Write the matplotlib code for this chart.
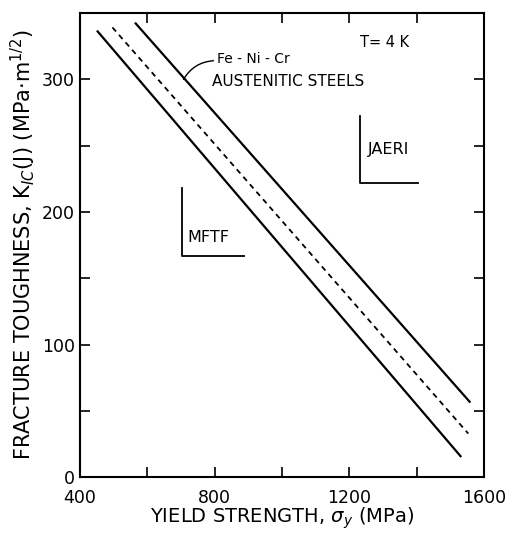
import matplotlib.pyplot as plt

# band of K_IC vs yield strength for Fe-Ni-Cr austenitic steels at 4 K
upper_x = [566, 1557]
upper_y = [342, 57]
mean_x = [497, 1553]
mean_y = [339, 33]
lower_x = [453, 1530]
lower_y = [336, 16]

# target boxes (corner brackets)
mftf_x = [704, 704, 888]
mftf_y = [218, 167, 167]
jaeri_x = [1231, 1231, 1405]
jaeri_y = [272, 222, 222]

xticks = [400, 800, 1200, 1600]
yticks = [0, 100, 200, 300]

fig = plt.figure(figsize=(5.08, 5.34), dpi=100)
ax = fig.add_axes([0.157, 0.106, 0.796, 0.870])

ax.plot(upper_x, upper_y, color='black', lw=1.6)
ax.plot(mean_x, mean_y, color='black', lw=1.3, ls=(0, (3, 2.5)))
ax.plot(lower_x, lower_y, color='black', lw=1.6)

ax.plot(mftf_x, mftf_y, color='black', lw=1.3)
ax.plot(jaeri_x, jaeri_y, color='black', lw=1.3)

ax.text(720, 181, 'MFTF', fontsize=11.5, ha='left', va='center')
ax.text(1255, 247, 'JAERI', fontsize=11.5, ha='left', va='center')
ax.text(1231, 328, 'T= 4 K', fontsize=10.5, ha='left', va='center')
ax.text(808, 315, 'Fe - Ni - Cr', fontsize=10, ha='left', va='center')
ax.text(793, 298, 'AUSTENITIC STEELS', fontsize=11, ha='left', va='center')
ax.annotate('', xy=(704, 298), xytext=(805, 314),
            arrowprops=dict(arrowstyle='-', color='black', lw=1.0,
                            connectionstyle='arc3,rad=0.3'))

ax.set_xlim(400, 1600)
ax.set_ylim(0, 350)
ax.set_xticks(xticks)
ax.set_yticks(yticks)
ax.set_xticks(range(400, 1601, 200), minor=True)
ax.set_yticks(range(0, 351, 50), minor=True)
ax.tick_params(which='both', direction='in', top=True, right=True,
               length=7, width=1.2, labelsize=12.5)
ax.tick_params(axis='x', pad=8)
for s in ax.spines.values():
    s.set_linewidth(1.5)

ax.set_xlabel(r'YIELD STRENGTH, $\sigma_y$ (MPa)', fontsize=14, labelpad=-1)
ax.set_ylabel(r'FRACTURE TOUGHNESS, K$_{IC}$(J) (MPa$\cdot$m$^{1/2}$)',
              fontsize=15, labelpad=3)

fig.savefig('out.png', dpi=100)
